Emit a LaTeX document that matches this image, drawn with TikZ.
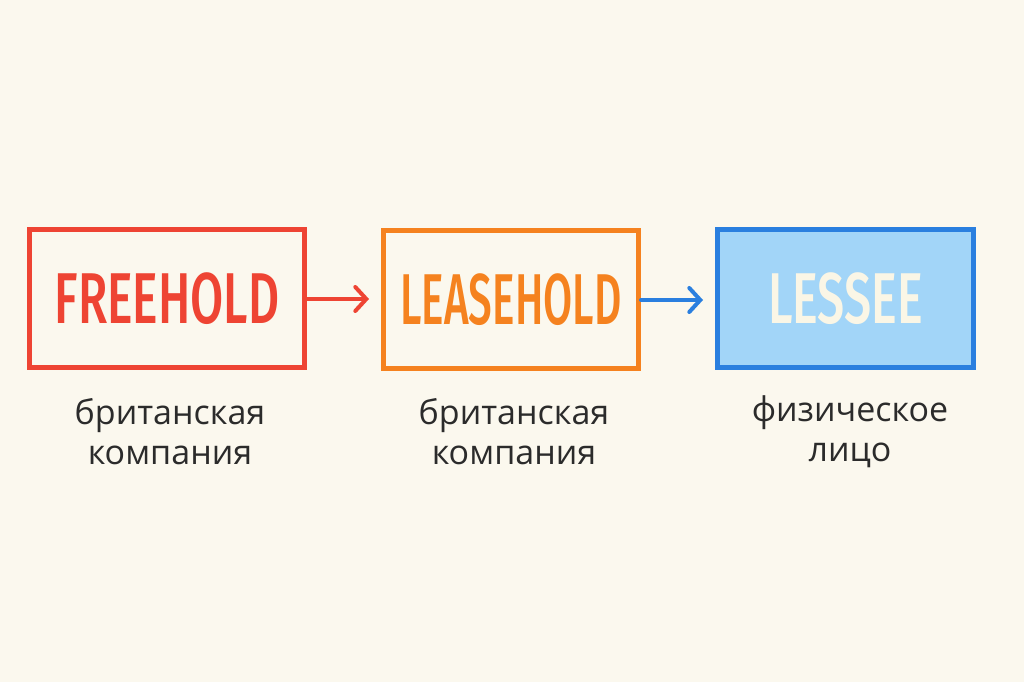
\documentclass[tikz,border=0pt]{standalone}
\usepackage{fontspec}
\usepackage{graphicx}
\setmainfont{Open Sans}
\newfontfamily\condfont[FakeStretch=0.70]{Fira Sans Medium}
\usetikzlibrary{arrows.meta}
\definecolor{bg}{HTML}{FBF8EE}
\definecolor{cred}{HTML}{EE4433}
\definecolor{corange}{HTML}{F5821F}
\definecolor{cblue}{HTML}{2A7FDF}
\definecolor{cfill}{HTML}{A2D5F8}
\definecolor{ctext}{HTML}{2B2B2B}
\definecolor{ccream}{HTML}{FAF6E6}
\newcommand\fitwd[2]{\resizebox{#1}{\height}{#2}}
\tikzset{
  box/.style={draw, line width=5pt, minimum width=#1, minimum height=138pt, inner sep=0pt},
  boxtxt/.style={font=\condfont\fontsize{72}{72}\selectfont},
  lbl/.style={font=\fontsize{34}{40}\selectfont, text=ctext, align=center},
  arr/.style={line width=4pt, line cap=round, -{Straight Barb[length=11pt,width=24pt,line cap=round]}}
}
\begin{document}
\begin{tikzpicture}[x=1pt,y=1pt]
\fill[bg] (0,0) rectangle (1024,682);
\useasboundingbox (0,0) rectangle (1024,682);
\node[box=275pt, draw=cred, text=cred, boxtxt] (b1) at (167,383) {\fitwd{225pt}{FREEHOLD}};
\node[box=255pt, draw=corange, text=corange, boxtxt] (b2) at (511,382) {\fitwd{221pt}{LEASEHOLD}};
\node[box=256pt, draw=cblue, fill=cfill, text=ccream, boxtxt] (b3) at (845.5,383) {\fitwd{155pt}{LESSEE}};
\draw[arr, cred] (b1.east) -- ++(62,0) coordinate (a1);
\draw[arr, cblue] (b2.east) -- ++(62,0) coordinate (a2);
\node[lbl] (l1) at (170,250) {британская\\компания};
\node[lbl] (l2) at (514,250) {британская\\компания};
\node[lbl] (l3) at (850,250) {физическое\\лицо};
\end{tikzpicture}
\end{document}
